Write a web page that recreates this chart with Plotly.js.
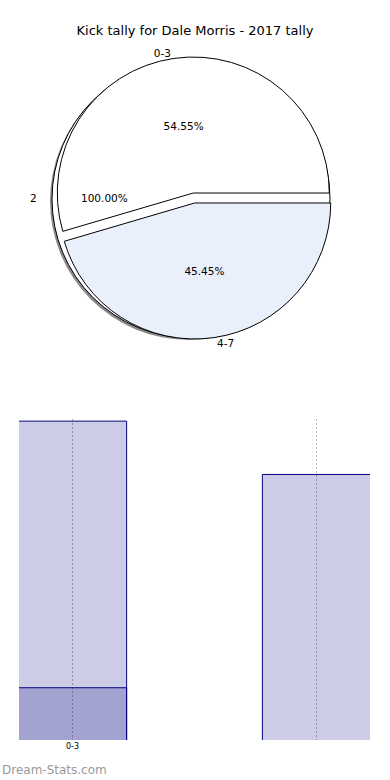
<!DOCTYPE html>
<html>
<head>
<meta charset="utf-8">
<script src="https://cdn.plot.ly/plotly-3.0.1.min.js"></script>
<style>html,body{margin:0;padding:0;background:#fff;}#chart{width:390px;height:780px;}</style>
</head>
<body>
<div id="chart"></div>
<script>
// ---- data ----
var titleText = 'Kick tally for Dale Morris - 2017 tally';
var pieLabels = ['0-3', '4-7'];
var pieValues = [6, 5];
var pieColors = ['#ffffff', '#eaf0fb'];
var extraLabels = ['2'];
var extraValues = [1];
var barCats = ['0-3', '4-7'];
var barTotals = [6, 5];
var overlapCats = ['0-3'];
var overlapValues = [1];
var tickText = ['0-3', ''];
var watermark = 'Dream-Stats.com';

// ---- layout helpers (pixel geometry -> paper domain) ----
var W = 390, H = 780;
function dom(cx, cy, r) {
  return { x: [(cx - r) / W, (cx + r) / W], y: [(H - cy - r) / H, (H - cy + r) / H] };
}
var pull = 0.037;
var mainDom = dom(194, 198, 136 * (1 + pull));
var font = 'DejaVu Sans, sans-serif';

// first slice starts at 3 o'clock and runs counterclockwise
var pieSum = pieValues.reduce(function (a, b) { return a + b; }, 0);
var pieRotation = 90 - 360 * pieValues[0] / pieSum;

var total = extraValues.reduce(function (a, b) { return a + b; }, 0);
var extraPct = (100 * extraValues[0] / total).toFixed(2) + '%';

var traces = [
  // shadow of the full "2" pie
  { type: 'pie', labels: extraLabels, values: extraValues, domain: dom(189, 201, 139),
    marker: { colors: ['#8a8a8a'], line: { width: 0 } }, textinfo: 'none', hoverinfo: 'skip',
    showlegend: false, sort: false },
  // the full "2" pie
  { type: 'pie', labels: extraLabels, values: extraValues, domain: dom(191, 199, 139),
    marker: { colors: ['#ffffff'], line: { color: '#000', width: 1 } }, textinfo: 'none', hoverinfo: 'skip',
    showlegend: false, sort: false },
  // main pie with inside percentages
  { type: 'pie', labels: pieLabels, values: pieValues, domain: mainDom,
    rotation: pieRotation, direction: 'counterclockwise', sort: false, pull: [pull, pull],
    marker: { colors: pieColors, line: { color: '#000', width: 1 } },
    texttemplate: '%{percent:.2%}', textposition: 'inside', insidetextorientation: 'horizontal',
    textfont: { family: font, size: 10.5, color: '#000' }, hoverinfo: 'label+percent', showlegend: false },
  // outside labels
  { type: 'pie', labels: pieLabels, values: pieValues, domain: mainDom,
    rotation: pieRotation, direction: 'counterclockwise', sort: false, pull: [pull, pull],
    marker: { colors: ['rgba(0,0,0,0)', 'rgba(0,0,0,0)'], line: { width: 0 } },
    textinfo: 'label', textposition: 'outside',
    textfont: { family: font, size: 10.5, color: '#000' }, hoverinfo: 'skip', showlegend: false },
  // bars
  { type: 'bar', x: barCats, y: barTotals, width: 0.444,
    marker: { color: 'rgba(0,0,128,0.2)', line: { color: '#000080', width: 1 } }, showlegend: false },
  { type: 'bar', x: overlapCats, y: overlapValues, width: 0.444,
    marker: { color: 'rgba(0,0,128,0.2)', line: { color: '#000080', width: 1 } }, showlegend: false }
];

var layout = {
  width: W, height: H,
  margin: { l: 0, r: 0, t: 0, b: 0 },
  paper_bgcolor: '#fff', plot_bgcolor: 'rgba(0,0,0,0)',
  title: { text: titleText, x: 0.5, xanchor: 'center', y: 1 - 30 / H, yanchor: 'middle',
    font: { family: font, size: 13, color: '#000' } },
  barmode: 'overlay',
  xaxis: { type: 'category', domain: [19 / W, 370 / W], range: [-0.219, 1.219],
    tickmode: 'array', tickvals: barCats, ticktext: tickText,
    showgrid: true, gridcolor: '#b4b4b4', griddash: '2px,2px', gridwidth: 1,
    zeroline: false, showline: false, ticks: '',
    tickfont: { family: font, size: 8, color: '#000' }, fixedrange: true },
  yaxis: { domain: [(H - 740) / H, (H - 419) / H], range: [0.02, 6.04],
    showgrid: false, zeroline: false, showline: false, showticklabels: false, ticks: '', fixedrange: true },
  annotations: [
    { text: extraLabels[0], xref: 'paper', yref: 'paper', x: 33 / W, y: (H - 198) / H,
      xanchor: 'center', yanchor: 'middle', showarrow: false, font: { family: font, size: 10.5, color: '#000' } },
    { text: extraPct, xref: 'paper', yref: 'paper', x: 104 / W, y: (H - 198) / H,
      xanchor: 'center', yanchor: 'middle', showarrow: false, font: { family: font, size: 10.5, color: '#000' } },
    { text: watermark, xref: 'paper', yref: 'paper', x: 0, y: (H - 770) / H,
      xanchor: 'left', yanchor: 'middle', showarrow: false, font: { family: font, size: 12, color: '#999' } }
  ]
};

Plotly.newPlot('chart', traces, layout, { displayModeBar: false, staticPlot: true });
</script>
</body>
</html>
